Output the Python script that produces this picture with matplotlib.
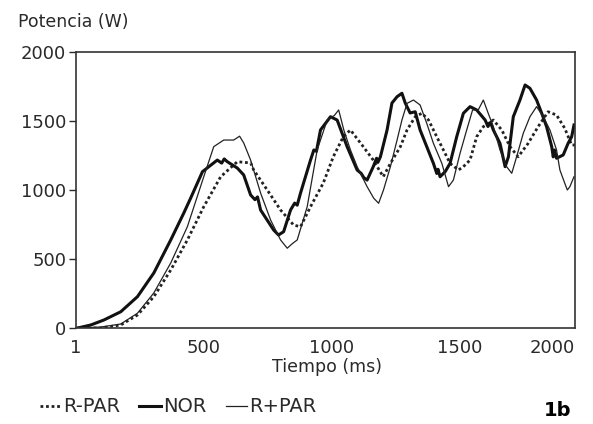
import matplotlib
matplotlib.use('Agg')
import matplotlib.pyplot as plt

plt.rcParams['font.family'] = ['DejaVu Sans']

# curves (time in ms, power in W)
t_nor = [8, 59, 110, 176, 241, 305, 371, 422, 449, 495, 553, 570, 580, 592, 631, 656,
         683, 700, 710, 722, 773, 792, 812, 839, 855, 865, 878, 917, 930, 940, 956, 995,
         1021, 1060, 1099, 1115, 1125, 1138, 1162, 1175, 1180, 1190, 1216, 1235, 1255,
         1274, 1287, 1306, 1326, 1345, 1371, 1397, 1410, 1415, 1423, 1443, 1462, 1488,
         1514, 1540, 1566, 1599, 1610, 1620, 1631, 1657, 1677, 1690, 1709, 1735, 1755,
         1774, 1800, 1820, 1839, 1859, 1865, 1870, 1878, 1904, 1923, 1937, 1946]
p_nor = [0, 22, 58, 118, 227, 399, 638, 833, 942, 1133, 1217, 1195, 1225, 1205, 1159, 1109,
         964, 930, 950, 855, 710, 674, 698, 855, 905, 890, 978, 1217, 1290, 1280, 1435, 1531,
         1507, 1314, 1145, 1120, 1090, 1072, 1169, 1230, 1200, 1241, 1435, 1630, 1676,
         1701, 1630, 1558, 1567, 1435, 1314, 1193, 1120, 1150, 1096, 1133, 1193, 1386,
         1556, 1604, 1580, 1507, 1460, 1490, 1435, 1338, 1169, 1241, 1531, 1652, 1761,
         1737, 1652, 1556, 1459, 1314, 1240, 1290, 1230, 1254, 1338, 1386, 1471]

t_rpar = [5, 98, 176, 241, 305, 371, 436, 500, 539, 578, 617, 640, 656, 683, 722, 761,
          800, 826, 845, 865, 904, 943, 982, 1010, 1027, 1047, 1073, 1099, 1138, 1164,
          1183, 1202, 1229, 1255, 1274, 1294, 1319, 1345, 1371, 1397, 1430, 1456, 1475,
          1501, 1527, 1550, 1572, 1592, 1611, 1631, 1657, 1683, 1703, 1722, 1748,
          1774, 1800, 1826, 1852, 1878, 1891, 1910, 1920, 1930, 1946]
p_rpar = [0, 7, 29, 107, 254, 471, 734, 1096, 1314, 1362, 1362, 1390, 1341, 1217, 978, 783,
          638, 578, 610, 638, 879, 1290, 1507, 1540, 1580, 1435, 1290, 1169, 1024, 940,
          904, 1000, 1169, 1362, 1507, 1628, 1652, 1616, 1483, 1338, 1193, 1024, 1072,
          1266, 1435, 1580, 1580, 1652, 1556, 1459, 1290, 1169, 1121, 1241, 1411,
          1531, 1604, 1531, 1435, 1290, 1145, 1049, 1000, 1024, 1096]

t_rmin = [5, 98, 176, 241, 305, 371, 436, 500, 566, 631, 683, 695, 748, 800, 851,
          878, 917, 967, 1006, 1045, 1073, 1123, 1162, 1201, 1229, 1268, 1294, 1326,
          1352, 1378, 1410, 1436, 1462, 1495, 1514, 1540, 1566, 1592, 1631, 1664,
          1696, 1728, 1767, 1806, 1845, 1878, 1910, 1937, 1950]
p_rmin = [0, 0, 22, 94, 227, 420, 638, 879, 1096, 1205, 1196, 1145, 1000, 855, 746,
          734, 879, 1051, 1241, 1386, 1435, 1314, 1217, 1096, 1193, 1314, 1435, 1531,
          1556, 1507, 1386, 1290, 1193, 1145, 1169, 1217, 1386, 1459, 1507, 1435,
          1314, 1241, 1338, 1459, 1567, 1543, 1447, 1326, 1326]

x_ticks = [1, 500, 1000, 1500, 1950]
x_labels = ['1', '500', '1000', '1500', '2000']
y_ticks = [0, 500, 1000, 1500, 2000]

fig = plt.figure(figsize=(5.93, 4.24), dpi=100)
ax = fig.add_axes([76 / 593, 1 - 328 / 424, 499 / 593, 276 / 424])

ax.plot(t_rmin, p_rmin, color='#222222', lw=2.0, ls=(0, (1, 1)), label='R-PAR')
ax.plot(t_nor, p_nor, color='#111111', lw=2.2, label='NOR')
ax.plot(t_rpar, p_rpar, color='#222222', lw=0.9, label='R+PAR')

ax.set_xlim(1, 1950)
ax.set_ylim(0, 2000)
ax.set_xticks(x_ticks)
ax.set_xticklabels(x_labels)
ax.get_xticklabels()[-1].set_ha('right')
ax.set_yticks(y_ticks)
ax.tick_params(axis='x', length=0, pad=8, labelsize=13, colors='#2a2a2a')
ax.tick_params(axis='y', length=5, width=1, pad=2, labelsize=13, colors='#2a2a2a')
for s in ax.spines.values():
    s.set_linewidth(1.2)
    s.set_color('#333333')

ax.set_xlabel('Tiempo (ms)', fontsize=12.5, color='#2a2a2a', va='center')
ax.xaxis.set_label_coords((327 - 76) / 499, (328 - 367) / 276)
fig.text(18 / 593, 1 - 22 / 424, 'Potencia (W)', fontsize=12.5, va='center', color='#2a2a2a')
fig.text(558 / 593, 1 - 410 / 424, '1b', fontsize=14, fontweight='bold', ha='center', va='center')

fig.legend(loc='center left', bbox_to_anchor=(22 / 593, 1 - 407 / 424), ncol=3, frameon=False,
           fontsize=14, handlelength=1.1, handletextpad=0.1, columnspacing=1.0,
           labelcolor='#2a2a2a')

fig.savefig('out.png', dpi=100)
